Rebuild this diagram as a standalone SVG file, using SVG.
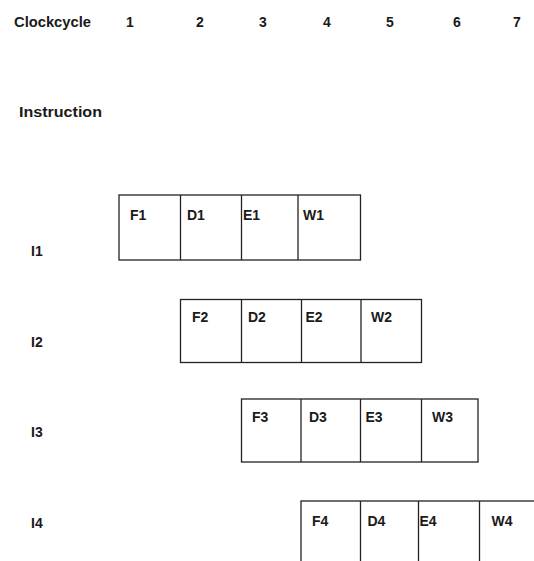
<svg xmlns="http://www.w3.org/2000/svg" width="534" height="561" viewBox="0 0 534 561">
<style>
text{font-family:"Liberation Sans",Arial,sans-serif;font-weight:bold;font-size:14px;fill:#1a1a1a}
.box{fill:#fff;stroke:#222;stroke-width:1.3}
.div{stroke:#222;stroke-width:1.3}
</style>
<rect width="534" height="561" fill="#fff"/>
<g id="header">
<text x="14" y="27" textLength="77" lengthAdjust="spacingAndGlyphs">Clockcycle</text>
<text x="126" y="27">1</text>
<text x="196" y="27">2</text>
<text x="259" y="27">3</text>
<text x="323" y="27">4</text>
<text x="386" y="27">5</text>
<text x="453" y="27">6</text>
<text x="513" y="27">7</text>
<text x="19" y="117" textLength="83" lengthAdjust="spacingAndGlyphs">Instruction</text>
</g>
<g id="I1">
<text x="31" y="256">I1</text>
<rect class="box" x="119" y="195" width="241.5" height="65"/>
<line class="div" x1="180.5" y1="195" x2="180.5" y2="260"/>
<line class="div" x1="241.5" y1="195" x2="241.5" y2="260"/>
<line class="div" x1="298" y1="195" x2="298" y2="260"/>
<text x="130" y="220">F1</text>
<text x="187" y="220">D1</text>
<text x="243" y="220">E1</text>
<text x="303" y="220">W1</text>
</g>
<g id="I2">
<text x="31" y="347">I2</text>
<rect class="box" x="180.5" y="299.5" width="241" height="63"/>
<line class="div" x1="241.5" y1="299.5" x2="241.5" y2="362.5"/>
<line class="div" x1="301.5" y1="299.5" x2="301.5" y2="362.5"/>
<line class="div" x1="361" y1="299.5" x2="361" y2="362.5"/>
<text x="192" y="322">F2</text>
<text x="248" y="322">D2</text>
<text x="305.5" y="322">E2</text>
<text x="371" y="322">W2</text>
</g>
<g id="I3">
<text x="31" y="437">I3</text>
<rect class="box" x="241.5" y="399" width="236.5" height="63"/>
<line class="div" x1="301" y1="399" x2="301" y2="462"/>
<line class="div" x1="360.5" y1="399" x2="360.5" y2="462"/>
<line class="div" x1="421.5" y1="399" x2="421.5" y2="462"/>
<text x="252" y="422">F3</text>
<text x="309" y="422">D3</text>
<text x="365.5" y="422">E3</text>
<text x="432" y="422">W3</text>
</g>
<g id="I4">
<text x="31" y="528">I4</text>
<rect class="box" x="301" y="501" width="260" height="80"/>
<line class="div" x1="360.5" y1="501" x2="360.5" y2="561"/>
<line class="div" x1="418.5" y1="501" x2="418.5" y2="561"/>
<line class="div" x1="479.5" y1="501" x2="479.5" y2="561"/>
<text x="312" y="526">F4</text>
<text x="367.5" y="526">D4</text>
<text x="419.5" y="526">E4</text>
<text x="491.5" y="526">W4</text>
</g>
<g id="connectors"/>
</svg>
